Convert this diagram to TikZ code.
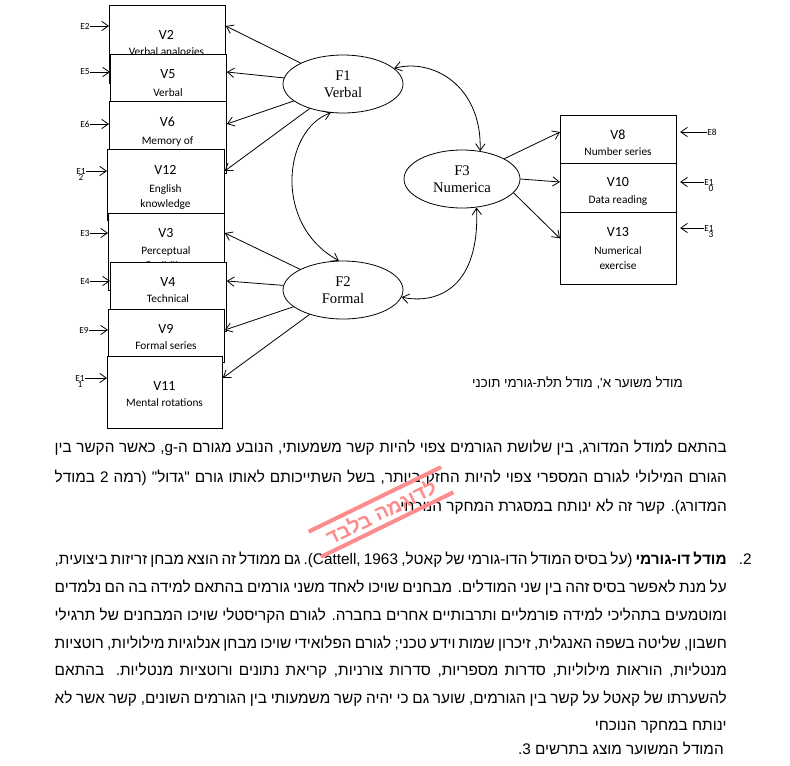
\documentclass[tikz,border=0pt]{standalone}
\usepackage{fontspec}
\setmainfont{Liberation Serif}
\newfontfamily\calfont{Carlito}
\newfontfamily\hebfont[Script=Hebrew,Ligatures=TeXOff]{Liberation Sans}
\usetikzlibrary{arrows.meta,positioning,shapes.geometric}
\TeXXeTstate=1

% one justified line of the Hebrew paragraph
\newcommand\hebline[1]{\hbox to 504pt{\beginR #1\endR}}

\begin{document}
\begin{tikzpicture}[x=0.75pt, y=-0.75pt,
  obsbox/.style={draw, fill=white, line width=0.6pt, anchor=north west, inner sep=0, minimum width=87pt},
  vname/.style={font=\calfont\fontsize{10.5}{12}\selectfont, inner sep=0, anchor=base},
  vsub/.style={font=\calfont\fontsize{8.5}{10}\selectfont, inner sep=0, anchor=base},
  elab/.style={font=\calfont\fontsize{7}{8}\selectfont, inner sep=0},
  factor/.style={draw, ellipse, fill=white, line width=0.6pt, minimum width=90pt, minimum height=43.5pt, align=center, inner sep=0, font=\fontsize{11}{13}\selectfont},
  arr/.style={-{Straight Barb[length=5pt,width=7pt]}, line width=0.6pt},
  darr/.style={{Straight Barb[length=5pt,width=7pt]}-{Straight Barb[length=5pt,width=7pt]}, line width=0.6pt},
  heb/.style={font=\hebfont\fontsize{11.5}{14}\selectfont, inner sep=0, anchor=base east},
  stamp/.style={red!45, line width=3pt}
]
\useasboundingbox (0,0) rectangle (790,765);

% observed variables, left column (each box hides the bottom of the one above)
\node[obsbox, minimum height=58.5pt] (v2) at (109,5) {};
\node[vname] (v2-t) at (166.5,39.5) {V2};
\node[vsub] (v2-s) at (166.5,55.5) {Verbal analogies};
\node[obsbox, minimum height=52.5pt] (v5) at (110,54) {};
\node[vname] (v5-t) at (168,78.5) {V5};
\node[vsub] (v5-s) at (168,96.5) {Verbal};
\node[obsbox, minimum height=54pt, minimum width=87.75pt] (v6) at (109,101) {};
\node[vname] (v6-t) at (167.5,126.5) {V6};
\node[vsub] (v6-s) at (167.5,144.5) {Memory of};
\node[obsbox, minimum height=53.25pt, minimum width=87.75pt] (v12) at (107,149) {};
\node[vname] (v12-t) at (165.5,174.5) {V12};
\node[vsub] (v12-s) at (165.5,192.5) {English};
\node[vsub] (v12-s2) at (165.5,207.5) {knowledge};
\node[obsbox, minimum height=57.75pt] (v3) at (108,213) {};
\node[vname] (v3-t) at (166,237.5) {V3};
\node[vsub] (v3-s) at (166,254.5) {Perceptual};
\node[vsub] (v3-s2) at (166,269.5) {flexibility};
\node[obsbox, minimum height=51.75pt] (v4) at (110,262) {};
\node[vname] (v4-t) at (168,286.5) {V4};
\node[vsub] (v4-s) at (168,302) {Technical};
\node[vsub] (v4-s2) at (168,317) {knowledge};
\node[obsbox, minimum height=39.75pt] (v9) at (108,309) {};
\node[vname] (v9-t) at (166,333.5) {V9};
\node[vsub] (v9-s) at (166,349.5) {Formal series};
\node[obsbox, minimum height=54pt, minimum width=86.25pt] (v11) at (107,356) {};
\node[vname] (v11-t) at (164.5,390.5) {V11};
\node[vsub] (v11-s) at (164.5,406.5) {Mental rotations};

% observed variables, right column
\node[obsbox, minimum height=36pt] (v8) at (560,115) {};
\node[vname] (v8-t) at (618,139.5) {V8};
\node[vsub] (v8-s) at (618,155.5) {Number series};
\node[obsbox, minimum height=36.75pt] (v10) at (560,163) {};
\node[vname] (v10-t) at (618,186.5) {V10};
\node[vsub] (v10-s) at (618,203.5) {Data reading};
\node[obsbox, minimum height=54pt] (v13) at (560,212) {};
\node[vname] (v13-t) at (618,236.5) {V13};
\node[vsub] (v13-s) at (618,254.5) {Numerical};
\node[vsub] (v13-s2) at (618,269.5) {exercise};

% error terms
\node[elab] (e2) at (85,26) {E2};
\node[elab] (e5) at (85,72) {E5};
\node[elab] (e6) at (85,124) {E6};
\node[elab, label distance=2pt, label={[elab]below:2}] (e12) at (81,171) {E1};
\node[elab] (e3) at (85,233) {E3};
\node[elab] (e4) at (85,281) {E4};
\node[elab] (e9) at (84,330) {E9};
\node[elab, label distance=2pt, label={[elab]below:1}] (e11) at (80,378) {E1};
\node[elab] (e8) at (712,132) {E8};
\node[elab, label distance=2pt, label={[elab, xshift=1.5pt]below:0}] (e10) at (709,182) {E1};
\node[elab, label distance=2pt, label={[elab, xshift=1.5pt]below:3}] (e13) at (709,228) {E1};

\draw[arr] (e2.east) -- (e2 -| v2.west);
\draw[arr] (e5.east) -- (e5 -| v5.west);
\draw[arr] (e6.east) -- (e6 -| v6.west);
\draw[arr] (e12.east) -- (e12 -| v12.west);
\draw[arr] (e3.east) -- (e3 -| v3.west);
\draw[arr] (e4.east) -- (e4 -| v4.west);
\draw[arr] (e9.east) -- (e9 -| v9.west);
\draw[arr] (e11.east) -- (e11 -| v11.west);
\draw[arr] (e8.west) -- ([xshift=2.5pt]e8 -| v8.east);
\draw[arr] (e10.west) -- ([xshift=2.5pt]e10 -| v10.east);
\draw[arr] (e13.west) -- ([xshift=2.5pt]e13 -| v13.east);

% latent factors
\node[factor] (f1) at (343,84) {F1\\Verbal};
\node[factor] (f2) at (343,290) {F2\\Formal};
\node[factor, minimum width=87pt] (f3) at (462,179) {F3\\Numerica};

\draw[arr] (f1) -- (e2 -| v2.east);
\draw[arr] (f1) -- (e5 -| v5.east);
\draw[arr] (f1) -- (e6 -| v6.east);
\draw[arr] (f1) -- (e12 -| v12.east);
\draw[arr] (f2) -- (e3 -| v3.east);
\draw[arr] (f2) -- (e4 -| v4.east);
\draw[arr] (f2) -- (e9 -| v9.east);
\draw[arr] (f2) -- (e11 -| v11.east);
\draw[arr] (f3) -- (e8 -| v8.west);
\draw[arr] (f3.east) -- (e10 -| v10.west);
\draw[arr] (f3.-15) -- ([yshift=7.5pt]v13.west);

% correlations between factors
\draw[darr] (f1.17) .. controls (432,58) and (482,85) .. (f3.57);
\draw[darr] (f1.-113) .. controls (283,130) and (273,225) .. (f2.98);
\draw[darr] (f2.-7) .. controls (440,305) and (480,285) .. (f3.-63);

% caption and running text
\node[heb, font=\hebfont\fontsize{10}{12}\selectfont] (caption) at (683,387) {\beginR מודל משוער א', מודל תלת-גורמי תוכני\endR};

\node[heb] (l1) at (727,452.5) {\hebline{בהתאם למודל המדורג, בין שלושת הגורמים צפוי להיות קשר משמעותי, הנובע מגורם ה-g, כאשר הקשר בין}};
\node[heb] (l2) at (727,482.5) {\hebline{הגורם המילולי לגורם המספרי צפוי להיות החזק ביותר, בשל השתייכותם לאותו גורם "גדול" (רמה 2 במודל}};
\node[heb] (l3) at (727,511.5) {\beginR המדורג). קשר זה לא ינותח במסגרת המחקר הנוכחי.\endR};
\node[heb] (num) at (752,564.5) {\beginR 2.\endR};
\node[heb] (l4) at (727,564.5) {\hebline{{\bfseries מודל דו-גורמי} (על בסיס המודל הדו-גורמי של קאטל, \beginL .(Cattell, 1963\endL{} גם ממודל זה הוצא מבחן זריזות ביצועית,}};
\node[heb] (l5) at (727,592.5) {\hebline{על מנת לאפשר בסיס זהה בין שני המודלים. מבחנים שויכו לאחד משני גורמים בהתאם למידה בה הם נלמדים}};
\node[heb] (l6) at (727,620.5) {\hebline{ומוטמעים בתהליכי למידה פורמליים ותרבותיים אחרים בחברה. לגורם הקריסטלי שויכו המבחנים של תרגילי}};
\node[heb] (l7) at (727,648.5) {\hebline{חשבון, שליטה בשפה האנגלית, זיכרון שמות וידע טכני; לגורם הפלואידי שויכו מבחן אנלוגיות מילוליות, רוטציות}};
\node[heb] (l8) at (727,675.5) {\hebline{מנטליות, הוראות מילוליות, סדרות מספריות, סדרות צורניות, קריאת נתונים ורוטציות מנטליות. בהתאם}};
\node[heb] (l9) at (727,703.5) {\hebline{להשערתו של קאטל על קשר בין הגורמים, שוער גם כי יהיה קשר משמעותי בין הגורמים השונים, קשר אשר לא}};
\node[heb] (l10) at (727,730.5) {\beginR ינותח במחקר הנוכחי\endR};
\node[heb] (l11) at (724,754.5) {\beginR המודל המשוער מוצג בתרשים 3.\endR};

% sample watermark
\node[rotate=26, text=red!45, font=\hebfont\bfseries\fontsize{15}{15}\selectfont, inner xsep=10pt, inner ysep=4pt] (mark) at (381,512) {\beginR לדוגמה בלבד\endR};
\draw[stamp] (mark.north west) -- (mark.north east);
\draw[stamp] (mark.south west) -- (mark.south east);
\end{tikzpicture}
\end{document}
